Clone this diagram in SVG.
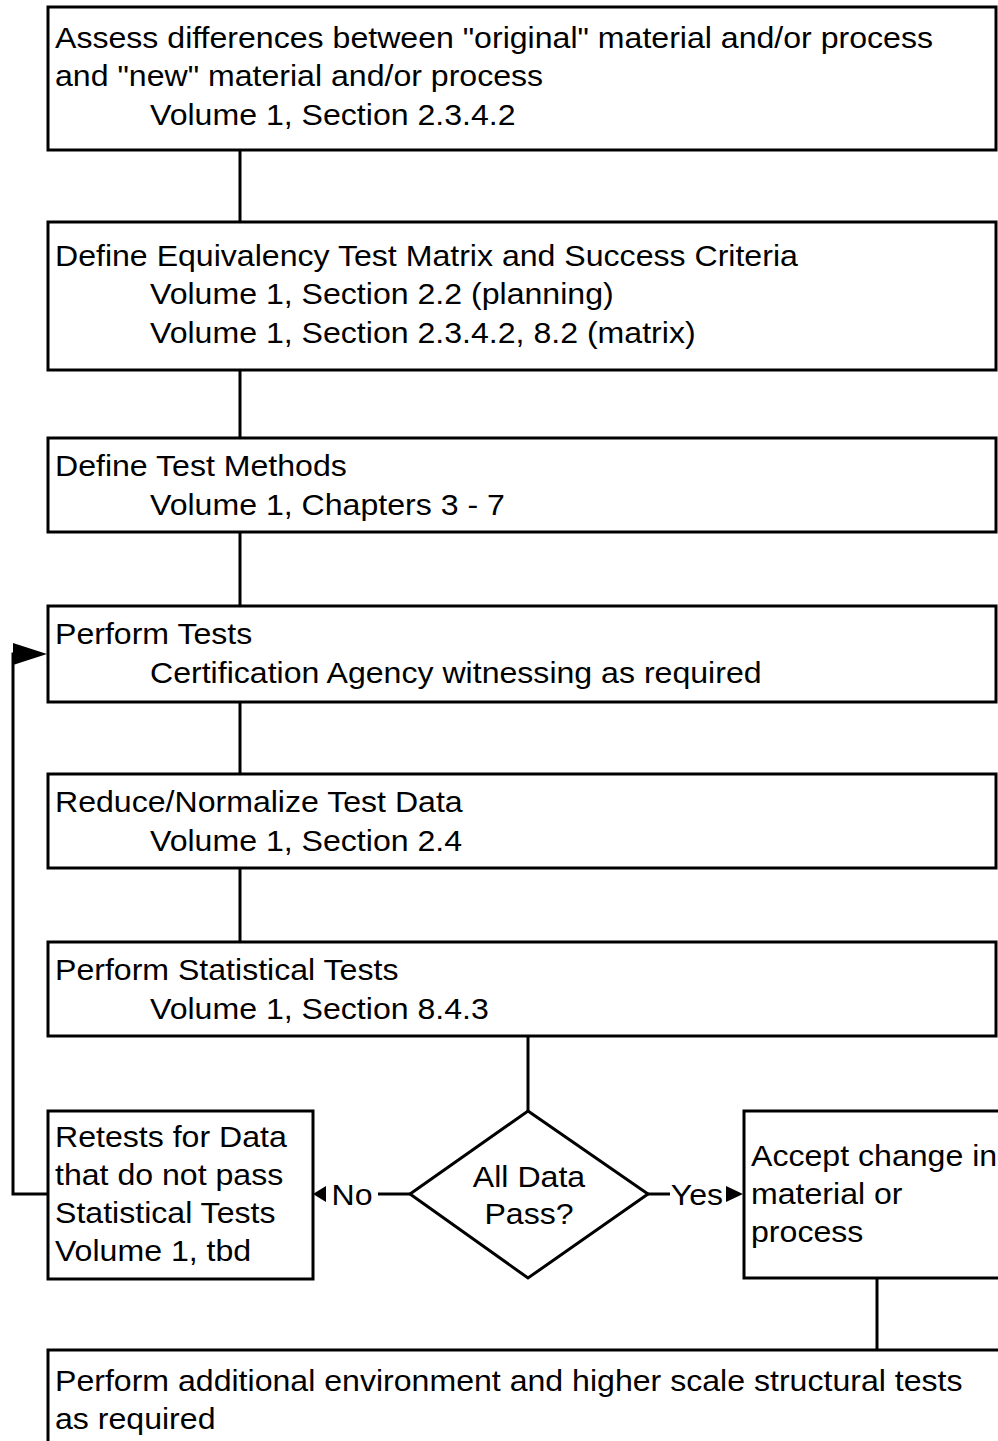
<svg xmlns="http://www.w3.org/2000/svg" width="998" height="1441" viewBox="0 0 998 1441">
<style>
.box{fill:#fff;stroke:#000;stroke-width:3}
.ln{fill:none;stroke:#000;stroke-width:3}
text{font-family:"Liberation Sans",Arial,sans-serif;font-size:30px;fill:#000}
.c{text-anchor:middle}
</style>
<g id="connectors">
<line class="ln" x1="240" y1="150" x2="240" y2="222"/>
<line class="ln" x1="240" y1="370" x2="240" y2="438"/>
<line class="ln" x1="240" y1="532" x2="240" y2="606"/>
<line class="ln" x1="240" y1="702" x2="240" y2="774"/>
<line class="ln" x1="240" y1="868" x2="240" y2="942"/>
<line class="ln" x1="528" y1="1036" x2="528" y2="1111"/>
<line class="ln" x1="877" y1="1278" x2="877" y2="1350"/>
<path class="ln" d="M48,1194H13V654H20"/>
<path d="M13,643L47,654L13,665z" fill="#000"/>
<line class="ln" x1="410" y1="1194" x2="378" y2="1194"/>
<path d="M326,1186L313,1194L326,1202z" fill="#000"/>
<line class="ln" x1="648" y1="1194" x2="670" y2="1194"/>
<path d="M726,1186L743,1194L726,1202z" fill="#000"/>
<g transform="scale(1.07 1)">
<text x="329" y="1205" class="c">No</text>
<text x="651.4" y="1205" class="c">Yes</text>
</g>
</g>
<g id="n1">
<rect class="box" x="48" y="7" width="948" height="143"/>
<g transform="scale(1.07 1)">
<text x="51.4" y="48">Assess differences between "original" material and/or process</text>
<text x="51.4" y="86">and "new" material and/or process</text>
<text x="140.2" y="125">Volume 1, Section 2.3.4.2</text>
</g>
</g>
<g id="n2">
<rect class="box" x="48" y="222" width="948" height="148"/>
<g transform="scale(1.07 1)">
<text x="51.4" y="266">Define Equivalency Test Matrix and Success Criteria</text>
<text x="140.2" y="304">Volume 1, Section 2.2 (planning)</text>
<text x="140.2" y="343">Volume 1, Section 2.3.4.2, 8.2 (matrix)</text>
</g>
</g>
<g id="n3">
<rect class="box" x="48" y="438" width="948" height="94"/>
<g transform="scale(1.07 1)">
<text x="51.4" y="476">Define Test Methods</text>
<text x="140.2" y="515">Volume 1, Chapters 3 - 7</text>
</g>
</g>
<g id="n4">
<rect class="box" x="48" y="606" width="948" height="96"/>
<g transform="scale(1.07 1)">
<text x="51.4" y="644">Perform Tests</text>
<text x="140.2" y="683">Certification Agency witnessing as required</text>
</g>
</g>
<g id="n5">
<rect class="box" x="48" y="774" width="948" height="94"/>
<g transform="scale(1.07 1)">
<text x="51.4" y="812">Reduce/Normalize Test Data</text>
<text x="140.2" y="851">Volume 1, Section 2.4</text>
</g>
</g>
<g id="n6">
<rect class="box" x="48" y="942" width="948" height="94"/>
<g transform="scale(1.07 1)">
<text x="51.4" y="980">Perform Statistical Tests</text>
<text x="140.2" y="1019">Volume 1, Section 8.4.3</text>
</g>
</g>
<g id="decision">
<path class="box" d="M528,1111L648,1194L528,1278L410,1194z"/>
<g transform="scale(1.07 1)">
<text x="494.4" y="1187" class="c">All Data</text>
<text x="494.4" y="1224" class="c">Pass?</text>
</g>
</g>
<g id="retest">
<rect class="box" x="48" y="1111" width="265" height="168"/>
<g transform="scale(1.07 1)">
<text x="51.4" y="1147">Retests for Data</text>
<text x="51.4" y="1185">that do not pass</text>
<text x="51.4" y="1223">Statistical Tests</text>
<text x="51.4" y="1261">Volume 1, tbd</text>
</g>
</g>
<g id="accept">
<rect class="box" x="744" y="1111" width="300" height="167"/>
<g transform="scale(1.07 1)">
<text x="701.9" y="1166">Accept change in</text>
<text x="701.9" y="1204">material or</text>
<text x="701.9" y="1242">process</text>
</g>
</g>
<g id="final">
<rect class="box" x="48" y="1350" width="1000" height="150"/>
<g transform="scale(1.07 1)">
<text x="51.4" y="1391">Perform additional environment and higher scale structural tests</text>
<text x="51.4" y="1429">as required</text>
</g>
</g>
</svg>
